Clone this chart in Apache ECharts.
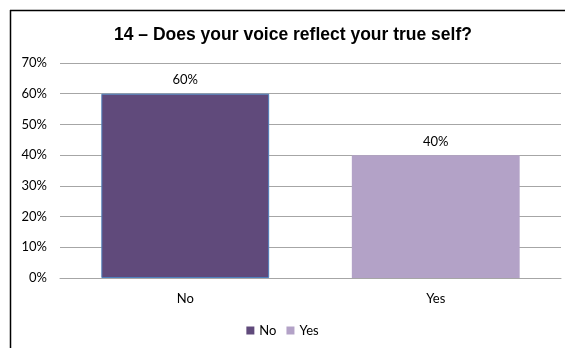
<!DOCTYPE html>
<html><head><meta charset="utf-8">
<script src="https://cdn.jsdelivr.net/npm/echarts@6/dist/echarts.min.js"></script>
<style>html,body{margin:0;padding:0;background:#fff}#c{width:565px;height:348px}</style>
</head><body><div id="c"></div>
<script>
const categories = ['No', 'Yes'];
const valuesNo = [60, null];
const valuesYes = [null, 40];
const yTicks = [0, 10, 20, 30, 40, 50, 60, 70];

const chart = echarts.init(document.getElementById('c'), null, {renderer: 'canvas'});
const font = 'Lato, "Open Sans", sans-serif';
chart.setOption({
  animation: false,
  title: {
    text: '14 – Does your voice reflect your true self?',
    left: 288, top: 21, textAlign: 'center',
    textStyle: {fontFamily: '"Liberation Sans", Arial, sans-serif', fontWeight: 'bold', fontSize: 17.5, color: '#000'}
  },
  graphic: [
    {type: 'line', shape: {x1: 10, y1: 10.5, x2: 565, y2: 10.5}, style: {stroke: '#000', lineWidth: 1.5}},
    {type: 'line', shape: {x1: 10.5, y1: 10, x2: 10.5, y2: 348}, style: {stroke: '#000', lineWidth: 1.5}}
  ],
  legend: {
    data: ['No', 'Yes'], bottom: 6, left: 'center',
    itemWidth: 8, itemHeight: 8, itemGap: 10, icon: 'rect',
    itemStyle: {borderWidth: 0},
    textStyle: {fontFamily: font, fontSize: 13, color: '#000'}
  },
  grid: {left: 60, right: 4, top: 63, bottom: 70},
  xAxis: {
    type: 'category', data: categories,
    axisLine: {show: true, lineStyle: {color: '#a6a6a6'}},
    axisTick: {show: false},
    axisLabel: {fontFamily: font, fontSize: 13, color: '#000', margin: 14}
  },
  yAxis: {
    type: 'value', min: 0, max: 70, interval: 10,
    axisLine: {show: false}, axisTick: {show: false},
    splitLine: {lineStyle: {color: '#a6a6a6'}},
    axisLabel: {fontFamily: font, fontSize: 13, color: '#000', margin: 13,
      formatter: v => yTicks.includes(v) ? v + '%' : ''}
  },
  series: [
    {name: 'No', type: 'bar', stack: 's', data: valuesNo, barWidth: '67%',
     itemStyle: {color: '#604A7B', borderColor: '#4F81BD', borderWidth: 1},
     label: {show: true, position: 'top', distance: 7, formatter: '{c}%', fontFamily: font, fontSize: 13, color: '#000'}},
    {name: 'Yes', type: 'bar', stack: 's', data: valuesYes, barWidth: '67%',
     itemStyle: {color: '#B3A2C7'},
     label: {show: true, position: 'top', distance: 7, formatter: '{c}%', fontFamily: font, fontSize: 13, color: '#000'}}
  ]
});
</script></body></html>
